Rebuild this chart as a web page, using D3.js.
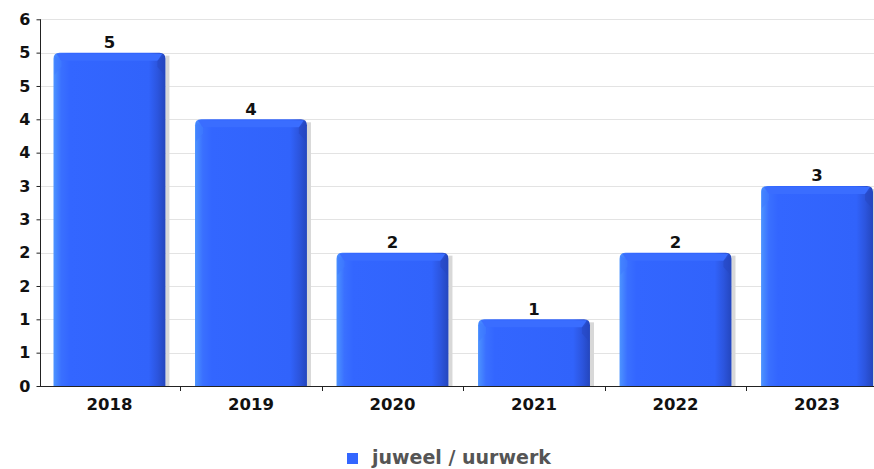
<!DOCTYPE html>
<html><head><meta charset="utf-8">
<script src="https://cdn.jsdelivr.net/npm/d3@7"></script>
<style>body{margin:0;background:#fff}svg{display:block}text{font-family:"DejaVu Sans",sans-serif;font-weight:bold}</style>
</head><body><svg id="c" width="874" height="469"></svg>
<script>
const categories = ["2018","2019","2020","2021","2022","2023"];
const values = [5,4,2,1,2,3];
const yTicks = [0,0.5,1,1.5,2,2.5,3,3.5,4,4.5,5,5.5];
const seriesName = "juweel / uurwerk";

const svg = d3.select("#c");
const plot = {left:40, right:874, top:19.3, bottom:386};
const y = d3.scaleLinear().domain([0,5.5]).range([plot.bottom, plot.top]);
const x = d3.scaleBand().domain(categories).range([53.5, 873]).paddingInner(0.209).paddingOuter(0);

const defs = svg.append("defs");
const g1 = defs.append("linearGradient").attr("id","barg").attr("x1","0").attr("x2","1").attr("y1","0").attr("y2","0");
[[0,"#4d94ff"],[0.07,"#3a70ff"],[0.15,"#3366ff"],[0.85,"#3163fb"],[0.93,"#2c55de"],[1,"#2446bd"]].forEach(([o,c])=>g1.append("stop").attr("offset",o).attr("stop-color",c));

// gridlines
svg.append("g").selectAll("line").data(yTicks).join("line")
  .attr("x1",plot.left).attr("x2",plot.right)
  .attr("y1",d=>Math.round(y(d))+0.5).attr("y2",d=>Math.round(y(d))+0.5)
  .attr("stroke","#e3e3e3").attr("stroke-width",1);

// x axis line & ticks between categories
const step = x.step();
const bounds = categories.slice(1).map(c=>x(c)-(step-x.bandwidth())/2);
svg.append("line").attr("x1",plot.left).attr("x2",plot.right).attr("y1",386.5).attr("y2",386.5).attr("stroke","#222");
svg.append("g").selectAll("line").data(bounds).join("line")
  .attr("x1",d=>Math.round(d)+0.5).attr("x2",d=>Math.round(d)+0.5).attr("y1",386).attr("y2",391).attr("stroke","#222");

// bars
const bars = svg.append("g").selectAll("g").data(categories.map((c,i)=>({c,v:values[i]}))).join("g");
bars.each(function(d){
  const gg = d3.select(this);
  const x0 = x(d.c), w = x.bandwidth(), t = y(d.v), b = y(0), r = 6, bev = 8;
  gg.append("rect").attr("x",x0+w).attr("y",t+3).attr("width",4).attr("height",b-t-3).attr("fill","#d8d8d8");
  const p = d3.path();
  p.moveTo(x0,b); p.lineTo(x0,t+r); p.quadraticCurveTo(x0,t,x0+r,t);
  p.lineTo(x0+w-r,t); p.quadraticCurveTo(x0+w,t,x0+w,t+r); p.lineTo(x0+w,b); p.closePath();
  gg.append("path").attr("d",p.toString()).attr("fill","url(#barg)");
  gg.append("path").attr("d",`M${x0+3},${t+1}L${x0+w-3},${t+1}L${x0+w-bev},${t+bev}L${x0+bev},${t+bev}Z`).attr("fill","#3a6dff");
  gg.append("path").attr("d",`M${x0+1},${t+3}L${x0+bev},${t+bev}L${x0+bev},${t+bev+6}L${x0+1},${t+bev+14}Z`).attr("fill","#3f7bff").attr("opacity",0.6);
  gg.append("path").attr("d",`M${x0+w-1},${t+3}L${x0+w-bev},${t+bev}L${x0+w-bev},${t+bev+6}L${x0+w-1},${t+bev+14}Z`).attr("fill","#2546c0").attr("opacity",0.5);
});

// value labels
svg.append("g").selectAll("text").data(categories.map((c,i)=>({c,v:values[i]}))).join("text")
  .attr("x",d=>x(d.c)+x.bandwidth()/2).attr("y",d=>y(d.v)-4.5)
  .attr("text-anchor","middle").attr("font-size",16.5).attr("fill","#111").text(d=>d.v);

// y axis
const yAxis = d3.axisLeft(y).tickValues(yTicks).tickSize(4).tickPadding(6).tickFormat(d=>Math.round(d+1e-9).toString());
const ya = svg.append("g").attr("transform",`translate(${plot.left+0.5},0)`).call(yAxis);
ya.select(".domain").attr("stroke","#222").attr("d",`M-0,${plot.bottom}V${plot.top}`);
ya.selectAll(".tick line").attr("stroke","#222");
ya.selectAll("text").attr("font-size",16).attr("fill","#111").attr("font-family","DejaVu Sans").attr("font-weight","bold");

// x labels
svg.append("g").selectAll("text").data(categories).join("text")
  .attr("x",d=>x(d)+x.bandwidth()/2).attr("y",409.5)
  .attr("text-anchor","middle").attr("font-size",16.5).attr("fill","#111").text(d=>d);

// legend
svg.append("rect").attr("x",347).attr("y",453).attr("width",11).attr("height",11).attr("fill","#3366ff");
svg.append("text").attr("x",372).attr("y",464).attr("font-size",19).attr("fill","#555").text(seriesName);
</script></body></html>
